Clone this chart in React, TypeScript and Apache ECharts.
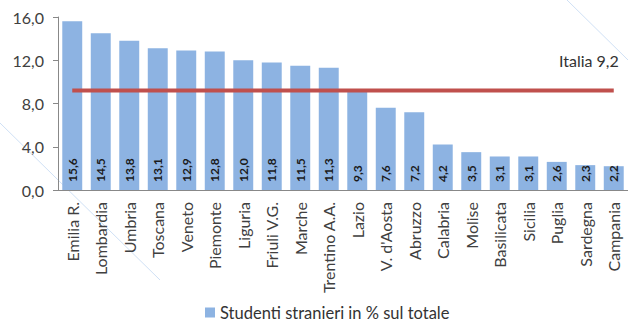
import React, { useEffect, useRef } from "react";
import * as echarts from "echarts";

const regions = [
  "Emilia R.", "Lombardia", "Umbria", "Toscana", "Veneto", "Piemonte", "Liguria",
  "Friuli V.G.", "Marche", "Trentino A.A.", "Lazio", "V. d'Aosta", "Abruzzo",
  "Calabria", "Molise", "Basilicata", "Sicilia", "Puglia", "Sardegna", "Campania",
];
const students = [15.6, 14.5, 13.8, 13.1, 12.9, 12.8, 12.0, 11.8, 11.5, 11.3, 9.3, 7.6, 7.2, 4.2, 3.5, 3.1, 3.1, 2.6, 2.3, 2.2];
const italiaValue = 9.2;
const seriesName = "Studenti stranieri in % sul totale";
const italiaLabel = "Italia 9,2";

const fmt = (v: number) => v.toFixed(1).replace(".", ",");
const FONT = "Lato";

export default function App() {
  const ref = useRef<HTMLDivElement>(null);
  useEffect(() => {
    if (!ref.current) return;
    const chart = echarts.init(ref.current, null, { renderer: "svg" });
    const italia = regions.map(() => italiaValue);
    chart.setOption({
      animation: false,
      backgroundColor: "#ffffff",
      textStyle: { fontFamily: FONT },
      grid: { left: 58, right: -2, top: 17, bottom: 139, containLabel: false },
      legend: {
        data: [seriesName],
        bottom: 3,
        left: 200,
        itemWidth: 10,
        itemHeight: 10,
        itemGap: 4,
        icon: "rect",
        textStyle: { fontSize: 16.5, color: "#333", fontFamily: FONT },
      },
      xAxis: {
        type: "category",
        data: regions,
        axisLine: { lineStyle: { color: "#888", width: 1 } },
        axisTick: { alignWithLabel: true, length: 4, lineStyle: { color: "#888" } },
        axisLabel: { rotate: 90, fontSize: 16, color: "#404040", margin: 12, interval: 0, fontFamily: FONT },
      },
      yAxis: {
        type: "value",
        min: 0,
        max: 16,
        interval: 4,
        splitLine: { show: false },
        axisLine: { show: true, lineStyle: { color: "#888" } },
        axisTick: { show: true, length: 5, lineStyle: { color: "#888" } },
        axisLabel: { formatter: (v: number) => fmt(v), fontSize: 16, color: "#404040", margin: 14, fontFamily: FONT },
      },
      graphic: [
        { type: "line", shape: { x1: 0, y1: 123, x2: 160, y2: 280 }, style: { stroke: "#cfe0f5", lineWidth: 1 }, silent: true },
        { type: "line", shape: { x1: 567, y1: 0, x2: 628, y2: 60 }, style: { stroke: "#cfe0f5", lineWidth: 1 }, silent: true },
      ],
      series: [
        {
          name: seriesName,
          type: "bar",
          data: students,
          barCategoryGap: "30%",
          itemStyle: { color: "#8db3e2" },
          label: {
            show: true,
            position: "insideBottom",
            rotate: 90,
            align: "left",
            verticalAlign: "middle",
            distance: 8,
            fontSize: 12,
            fontWeight: "bold",
            color: "#1a1a1a",
            fontFamily: FONT,
            formatter: (p: any) => fmt(p.value),
          },
        },
        {
          name: "Italia",
          type: "line",
          data: italia,
          symbol: "circle",
          symbolSize: 0,
          showSymbol: true,
          lineStyle: { color: "#c0504d", width: 4 },
          itemStyle: { color: "#c0504d" },
          z: 3,
          label: {
            show: true,
            position: "top",
            align: "right",
            offset: [5, -17],
            fontSize: 16,
            color: "#333",
            fontFamily: FONT,
            formatter: (p: any) => (p.dataIndex === italia.length - 1 ? italiaLabel : ""),
          },
        },
      ],
    });
    return () => chart.dispose();
  }, []);
  return <div ref={ref} style={{ width: 628, height: 329, position: "absolute", left: 0, top: 0 }} />;
}
